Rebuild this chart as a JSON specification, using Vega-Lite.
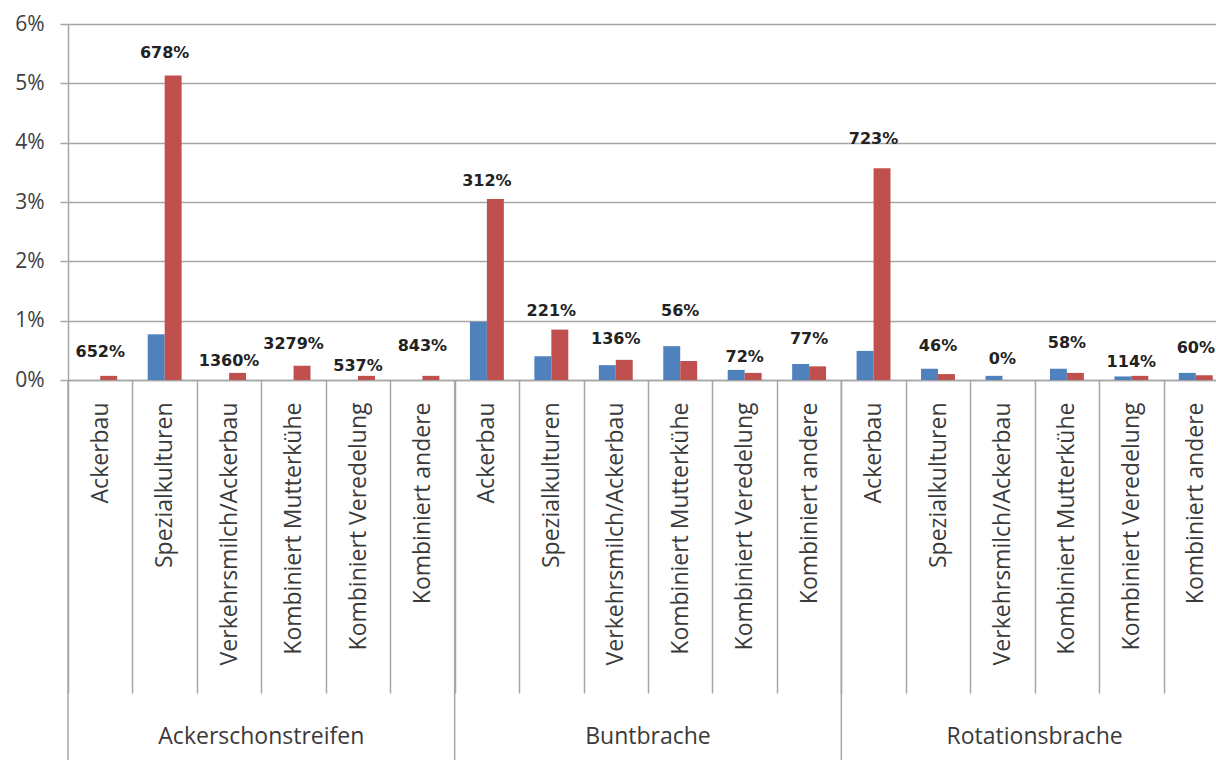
{
  "$schema": "https://vega.github.io/schema/vega-lite/v6.json",
  "width": 1148,
  "height": 356,
  "autosize": {"type": "none"},
  "padding": {"left": 68, "top": 24, "right": 0, "bottom": 380},
  "background": "white",
  "config": {"view": {"stroke": null}, "font": "Open Sans"},
  "data": {
    "values": [
      {"g": "Ackerschonstreifen", "c": "Ackerbau", "k": "Ackerschonstreifen|Ackerbau", "blue": 0, "red": 0.0007, "lbl": "652%", "lp": 0.0047},
      {"g": "Ackerschonstreifen", "c": "Spezialkulturen", "k": "Ackerschonstreifen|Spezialkulturen", "blue": 0.0077, "red": 0.0513, "lbl": "678%", "lp": 0.0551},
      {"g": "Ackerschonstreifen", "c": "Verkehrsmilch/Ackerbau", "k": "Ackerschonstreifen|Verkehrsmilch/Ackerbau", "blue": 0, "red": 0.0012, "lbl": "1360%", "lp": 0.0032},
      {"g": "Ackerschonstreifen", "c": "Kombiniert Mutterkühe", "k": "Ackerschonstreifen|Kombiniert Mutterkühe", "blue": 0, "red": 0.0024, "lbl": "3279%", "lp": 0.0061},
      {"g": "Ackerschonstreifen", "c": "Kombiniert Veredelung", "k": "Ackerschonstreifen|Kombiniert Veredelung", "blue": 0, "red": 0.0007, "lbl": "537%", "lp": 0.0024},
      {"g": "Ackerschonstreifen", "c": "Kombiniert andere", "k": "Ackerschonstreifen|Kombiniert andere", "blue": 0, "red": 0.0007, "lbl": "843%", "lp": 0.0057},
      {"g": "Buntbrache", "c": "Ackerbau", "k": "Buntbrache|Ackerbau", "blue": 0.0098, "red": 0.0305, "lbl": "312%", "lp": 0.0335},
      {"g": "Buntbrache", "c": "Spezialkulturen", "k": "Buntbrache|Spezialkulturen", "blue": 0.004, "red": 0.0085, "lbl": "221%", "lp": 0.0117},
      {"g": "Buntbrache", "c": "Verkehrsmilch/Ackerbau", "k": "Buntbrache|Verkehrsmilch/Ackerbau", "blue": 0.0025, "red": 0.0034, "lbl": "136%", "lp": 0.0069},
      {"g": "Buntbrache", "c": "Kombiniert Mutterkühe", "k": "Buntbrache|Kombiniert Mutterkühe", "blue": 0.0057, "red": 0.0032, "lbl": "56%", "lp": 0.0117},
      {"g": "Buntbrache", "c": "Kombiniert Veredelung", "k": "Buntbrache|Kombiniert Veredelung", "blue": 0.0017, "red": 0.0012, "lbl": "72%", "lp": 0.0039},
      {"g": "Buntbrache", "c": "Kombiniert andere", "k": "Buntbrache|Kombiniert andere", "blue": 0.0027, "red": 0.0023, "lbl": "77%", "lp": 0.0069},
      {"g": "Rotationsbrache", "c": "Ackerbau", "k": "Rotationsbrache|Ackerbau", "blue": 0.0049, "red": 0.0357, "lbl": "723%", "lp": 0.0407},
      {"g": "Rotationsbrache", "c": "Spezialkulturen", "k": "Rotationsbrache|Spezialkulturen", "blue": 0.0019, "red": 0.001, "lbl": "46%", "lp": 0.0057},
      {"g": "Rotationsbrache", "c": "Verkehrsmilch/Ackerbau", "k": "Rotationsbrache|Verkehrsmilch/Ackerbau", "blue": 0.0007, "red": 0, "lbl": "0%", "lp": 0.0035},
      {"g": "Rotationsbrache", "c": "Kombiniert Mutterkühe", "k": "Rotationsbrache|Kombiniert Mutterkühe", "blue": 0.0019, "red": 0.0012, "lbl": "58%", "lp": 0.0062},
      {"g": "Rotationsbrache", "c": "Kombiniert Veredelung", "k": "Rotationsbrache|Kombiniert Veredelung", "blue": 0.0006, "red": 0.0007, "lbl": "114%", "lp": 0.003},
      {"g": "Rotationsbrache", "c": "Kombiniert andere", "k": "Rotationsbrache|Kombiniert andere", "blue": 0.0012, "red": 0.0008, "lbl": "60%", "lp": 0.0054}
    ]
  },
  "layer": [
    {
      "transform": [{"fold": ["blue", "red"], "as": ["series", "v"]}],
      "mark": {"type": "bar"},
      "encoding": {
        "x": {
          "field": "k", "type": "nominal", "sort": null,
          "scale": {"paddingInner": 0, "paddingOuter": 0, "range": [0, 1160]},
          "axis": {
            "title": null,
            "labelExpr": "split(datum.value, '|')[1]",
            "labelAngle": 270, "labelAlign": "right", "labelBaseline": "middle",
            "labelFont": "Open Sans", "labelFontSize": 23, "labelColor": "#3a3a3a",
            "labelLimit": 0, "labelOverlap": false,
            "tickBand": "extent", "tickSize": 313, "tickColor": "#a6a6a6", "tickWidth": 1.5,
            "domainColor": "#a6a6a6", "domainWidth": 1.5,
            "labelPadding": -291
          }
        },
        "xOffset": {"field": "series", "type": "nominal", "sort": ["blue", "red"], "scale": {"paddingInner": 0, "paddingOuter": 0.9}},
        "y": {
          "field": "v", "type": "quantitative",
          "scale": {"domain": [0, 0.06], "nice": false},
          "axis": {
            "title": null,
            "values": [0, 0.01, 0.02, 0.03, 0.04, 0.05, 0.06],
            "format": ".0%",
            "labelFont": "Open Sans", "labelFontSize": 21, "labelColor": "#404040",
            "gridColor": "#a6a6a6", "gridWidth": 1.5,
            "domainColor": "#a6a6a6", "domainWidth": 1.5,
            "tickColor": "#a6a6a6", "tickWidth": 1.5, "tickSize": 8,
            "labelPadding": 16
          }
        },
        "color": {
          "field": "series", "type": "nominal",
          "scale": {"domain": ["blue", "red"], "range": ["#4F81BD", "#C0504D"]},
          "legend": null
        }
      }
    },
    {
      "mark": {"type": "text", "font": "DejaVu Sans", "fontWeight": "bold", "fontSize": 16, "color": "#222222", "baseline": "middle"},
      "encoding": {
        "x": {"field": "k", "type": "nominal", "sort": null},
        "y": {"field": "lp", "type": "quantitative"},
        "text": {"field": "lbl"}
      }
    },
    {
      "transform": [{"filter": "datum.c === 'Ackerbau'"}],
      "mark": {"type": "rule", "color": "#a6a6a6", "strokeWidth": 1.5},
      "encoding": {
        "x": {"field": "k", "type": "nominal", "sort": null, "bandPosition": 0},
        "y": {"datum": 0},
        "y2": {"datum": -0.07}
      }
    },
    {
      "transform": [{"filter": "datum.c === 'Verkehrsmilch/Ackerbau'"}],
      "mark": {"type": "text", "font": "Open Sans", "fontSize": 23, "color": "#3a3a3a", "baseline": "middle"},
      "encoding": {
        "x": {"field": "k", "type": "nominal", "sort": null, "bandPosition": 1},
        "y": {"datum": -0.0602},
        "text": {"field": "g"}
      }
    }
  ]
}
